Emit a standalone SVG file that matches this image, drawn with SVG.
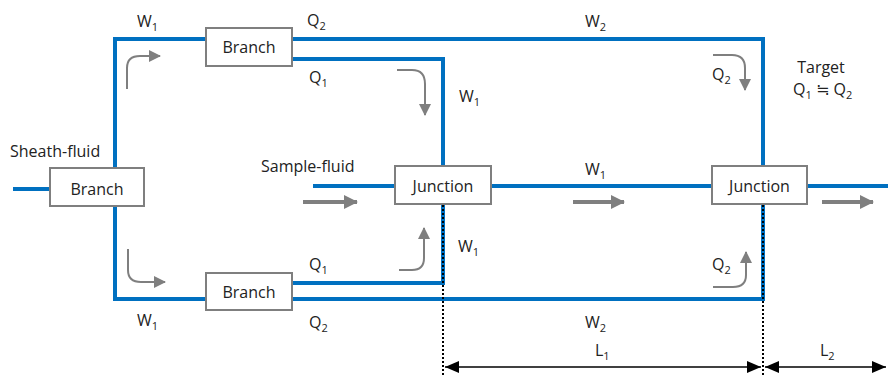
<svg xmlns="http://www.w3.org/2000/svg" width="888" height="376" viewBox="0 0 888 376">
<defs>
<style>
text{font-family:"Open Sans","Noto Sans","DejaVu Sans",sans-serif;fill:#222;font-size:16px}
.sub{font-size:11px}
.pipe{fill:none;stroke:#0070C0;stroke-width:4}
.box{fill:#fff;stroke:#7f7f7f;stroke-width:2}
.flow{fill:none;stroke:#7f7f7f;stroke-width:2}
.bigflow{fill:none;stroke:#7f7f7f;stroke-width:4}
.dot{fill:none;stroke:#000;stroke-width:2;stroke-dasharray:2 2}
.dim{fill:none;stroke:#000;stroke-width:1.5}
</style>
<marker id="ga" markerUnits="userSpaceOnUse" markerWidth="12" markerHeight="12" viewBox="0 0 12 12" refX="11" refY="6" orient="auto"><path d="M0,0 L12,6 L0,12 Z" fill="#7f7f7f"/></marker>
<marker id="gb" markerUnits="userSpaceOnUse" markerWidth="14" markerHeight="16" viewBox="0 0 14 16" refX="13" refY="8" orient="auto"><path d="M0,1 L14,8 L0,15 Z" fill="#7f7f7f"/></marker>
<marker id="da" markerUnits="userSpaceOnUse" markerWidth="14" markerHeight="12" viewBox="0 0 14 12" refX="14" refY="6" orient="auto-start-reverse"><path d="M0,0 L14,6 L0,12 Z" fill="#000"/></marker>
</defs>

<g id="connectors">
<path class="pipe" d="M13,189 L50,189"/>
<path class="pipe" d="M115,168 L115,39 L206,39"/>
<path class="pipe" d="M115,206 L115,299 L206,299"/>
<path class="pipe" d="M292,39 L763,39 L763,166"/>
<path class="pipe" d="M292,59 L443,59 L443,166"/>
<path class="pipe" d="M292,283 L443,283 L443,204"/>
<path class="pipe" d="M292,299 L763,299 L763,204"/>
<path class="pipe" d="M313,186 L395,186"/>
<path class="pipe" d="M491,186 L712,186"/>
<path class="pipe" d="M807,186 L888,186"/>
<path class="dot" d="M443,205 L443,376"/>
<path class="dot" d="M763,205 L763,376"/>
<path class="dim" d="M445,367 L761,367" marker-start="url(#da)" marker-end="url(#da)"/>
<path class="dim" d="M765,367 L886,367" marker-start="url(#da)" marker-end="url(#da)"/>
<path class="flow" d="M127,89 L127,68 Q127,56 140,56 L160,56" marker-end="url(#ga)"/>
<path class="flow" d="M128,249 L128,270 Q128,282 141,282 L165,282" marker-end="url(#ga)"/>
<path class="flow" d="M397,70 L412,70 Q425,70 425,84 L425,115" marker-end="url(#ga)"/>
<path class="flow" d="M399,270 L412,270 Q424,270 424,258 L424,228" marker-end="url(#ga)"/>
<path class="flow" d="M713,55 L732,55 Q745,55 745,68 L745,90" marker-end="url(#ga)"/>
<path class="flow" d="M713,287 L733,287 Q746,287 746,275 L746,252" marker-end="url(#ga)"/>
<path class="bigflow" d="M303,202 L357,202" marker-end="url(#gb)"/>
<path class="bigflow" d="M573,202 L624,202" marker-end="url(#gb)"/>
<path class="bigflow" d="M822,202 L873,202" marker-end="url(#gb)"/>
</g>

<g id="branch-main"><rect class="box" x="50" y="168" width="94" height="38"/><text x="97" y="195" text-anchor="middle">Branch</text></g>
<g id="branch-top"><rect class="box" x="206" y="28" width="86" height="38"/><text x="249" y="53" text-anchor="middle">Branch</text></g>
<g id="branch-bottom"><rect class="box" x="206" y="273" width="86" height="37"/><text x="249" y="298" text-anchor="middle">Branch</text></g>
<g id="junction-1"><rect class="box" x="395" y="166" width="96" height="38"/><text x="443" y="192" text-anchor="middle">Junction</text></g>
<g id="junction-2"><rect class="box" x="712" y="166" width="95" height="38"/><text x="759.5" y="192" text-anchor="middle">Junction</text></g>

<g id="labels">
<text x="10" y="157">Sheath-fluid</text>
<text x="261" y="172">Sample-fluid</text>
<text x="821" y="73" text-anchor="middle">Target</text>
<text x="793" y="95">Q<tspan class="sub" dy="4">1</tspan><tspan dy="-4"> ≒ </tspan>Q<tspan class="sub" dy="4">2</tspan></text>
<text x="137" y="27">W<tspan class="sub" dy="4">1</tspan></text>
<text x="307" y="26">Q<tspan class="sub" dy="4">2</tspan></text>
<text x="585" y="27">W<tspan class="sub" dy="4">2</tspan></text>
<text x="309" y="83">Q<tspan class="sub" dy="4">1</tspan></text>
<text x="459" y="102">W<tspan class="sub" dy="4">1</tspan></text>
<text x="712" y="80">Q<tspan class="sub" dy="4">2</tspan></text>
<text x="585" y="175">W<tspan class="sub" dy="4">1</tspan></text>
<text x="458" y="252">W<tspan class="sub" dy="4">1</tspan></text>
<text x="309" y="270">Q<tspan class="sub" dy="4">1</tspan></text>
<text x="712" y="270">Q<tspan class="sub" dy="4">2</tspan></text>
<text x="137" y="326">W<tspan class="sub" dy="4">1</tspan></text>
<text x="309" y="328">Q<tspan class="sub" dy="4">2</tspan></text>
<text x="585" y="328">W<tspan class="sub" dy="4">2</tspan></text>
<text x="595" y="356">L<tspan class="sub" dy="4">1</tspan></text>
<text x="820" y="356">L<tspan class="sub" dy="4">2</tspan></text>
</g>
</svg>
